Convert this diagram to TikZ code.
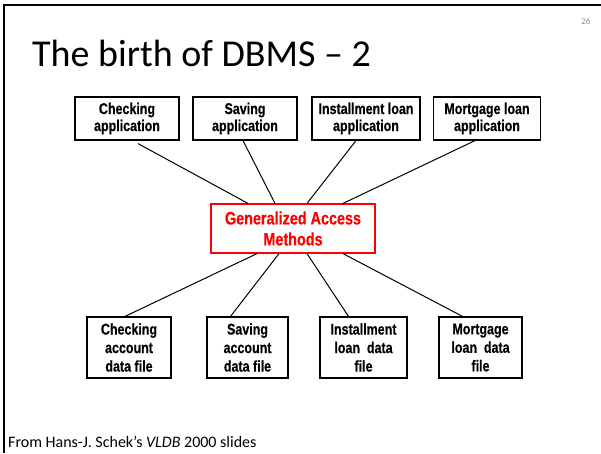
\documentclass[tikz,border=0pt]{standalone}
\usepackage{fontspec}
\setmainfont{Carlito}
\newfontfamily\boxfont{Liberation Sans}[FakeStretch=0.8,FakeBold=0.4]
\begin{document}
\begin{tikzpicture}[x=1pt,y=-1pt,
  appbox/.style={draw=black,line width=1.2pt,inner sep=0pt,align=center,
    font=\boxfont\bfseries\fontsize{15.6}{17}\selectfont},
  filebox/.style={draw=black,line width=1.2pt,inner sep=0pt,align=center,
    font=\boxfont\bfseries\fontsize{15.6}{18.5}\selectfont},
  gambox/.style={draw=red,line width=1.2pt,inner sep=0pt,align=center,text=red,
    font=\boxfont\bfseries\fontsize{18}{21}\selectfont},
  conn/.style={draw=black,line width=1pt}]
\useasboundingbox (0,0) rectangle (601,453);
\fill[white] (0,0) rectangle (601,453);
% slide frame
\draw[line width=2.5pt] (601,5) -- (4,5) -- (4,453);
\node[anchor=base east,text=black!45,font=\fontsize{9}{10}\selectfont] (pg) at (594,24) {26};
\node[anchor=base west,inner sep=0pt,font=\fontsize{38}{40}\selectfont] (title) at (32,66) {The birth of DBMS -- 2};
\node[anchor=base west,inner sep=0pt,font=\fontsize{16}{18}\selectfont] (foot) at (8,447) {From Hans-J. Schek's \textit{VLDB} 2000 slides};
% top row
\node[appbox,minimum width=104pt,minimum height=43pt] (a1) at (127,118.5) {Checking\\application};
\node[appbox,minimum width=104pt,minimum height=43pt] (a2) at (245,118.5) {Saving\\application};
\node[appbox,minimum width=108pt,minimum height=43pt] (a3) at (366,118.5) {Installment loan\\application};
\node[appbox,minimum width=107pt,minimum height=43pt] (a4) at (487,118.5) {Mortgage loan\\application};
% center
\node[gambox,minimum width=164pt,minimum height=49pt] (g) at (293,228.5) {Generalized Access\\Methods};
% bottom row
\node[filebox,minimum width=84pt,minimum height=61pt] (f1) at (129,347.5) {Checking\\account\\data file};
\node[filebox,minimum width=81pt,minimum height=61pt] (f2) at (247.5,347.5) {Saving\\account\\data file};
\node[filebox,minimum width=87pt,minimum height=61pt] (f3) at (363.5,347.5) {Installment\\loan~ data\\file};
\node[filebox,minimum width=83pt,minimum height=61pt] (f4) at (480.5,347.5) {Mortgage\\loan~ data\\file};
% connectors
\draw[conn] ([xshift=11pt,yshift=-3pt]a1.south) -- ([xshift=-45pt]g.north);
\draw[conn] ([xshift=-2pt]a2.south) -- ([xshift=-18pt]g.north);
\draw[conn] ([xshift=-10pt]a3.south) -- ([xshift=14pt]g.north);
\draw[conn] ([xshift=-12pt]a4.south) -- ([xshift=50pt]g.north);
\draw[conn] ([xshift=-36pt]g.south) -- ([xshift=-4pt]f1.north);
\draw[conn] ([xshift=-14pt]g.south) -- ([xshift=-17pt]f2.north);
\draw[conn] ([xshift=14pt]g.south) -- ([xshift=-15pt]f3.north);
\draw[conn] ([xshift=50pt]g.south) -- ([xshift=-18pt]f4.north);
\end{tikzpicture}
\end{document}
